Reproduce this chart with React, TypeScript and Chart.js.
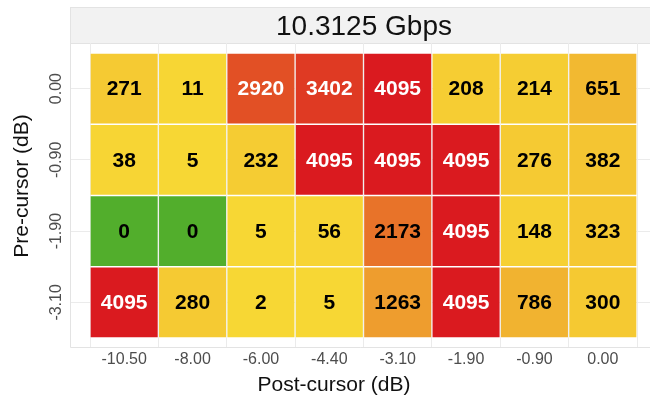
import React, { useEffect, useRef } from "react";
import { Chart, registerables } from "chart.js";

Chart.register(...registerables);

const chartTitle = "10.3125 Gbps";
const xAxisTitle = "Post-cursor (dB)";
const yAxisTitle = "Pre-cursor (dB)";

const postCursor = ["-10.50", "-8.00", "-6.00", "-4.40", "-3.10", "-1.90", "-0.90", "0.00"];
const preCursor = ["0.00", "-0.90", "-1.90", "-3.10"]; // top to bottom

const rowPre000 = [271, 11, 2920, 3402, 4095, 208, 214, 651];
const rowPre090 = [38, 5, 232, 4095, 4095, 4095, 276, 382];
const rowPre190 = [0, 0, 5, 56, 2173, 4095, 148, 323];
const rowPre310 = [4095, 280, 2, 5, 1263, 4095, 786, 300];

const rows = [rowPre000, rowPre090, rowPre190, rowPre310];

const FONT = "'Liberation Sans', Arial, sans-serif";

function cellColor(v: number): string {
  if (v === 0) return "rgb(82,174,44)";
  const t = Math.min(1, v / 4095);
  const lo = [247, 215, 52];
  const hi = [218, 26, 31];
  const c = lo.map((a, i) => Math.round(a + (hi[i] - a) * t));
  return `rgb(${c[0]},${c[1]},${c[2]})`;
}

export default function App() {
  const ref = useRef<HTMLCanvasElement | null>(null);

  useEffect(() => {
    if (!ref.current) return;
    const nRows = preCursor.length;
    const rowPos = (r: number) => nRows - 1 - r;

    const datasets = rows.map((vals, r) => ({
      label: preCursor[r],
      data: vals.map((v, c) => ({ x: c, y: [rowPos(r) - 0.5, rowPos(r) + 0.5] })),
      backgroundColor: vals.map(cellColor),
      borderColor: "rgba(255,255,255,0.22)",
      borderWidth: 1,
      borderSkipped: false,
      grouped: false,
      barPercentage: 1,
      categoryPercentage: 1,
    }));

    const decor = {
      id: "decor",
      beforeDraw(chart: any) {
        const { ctx, chartArea } = chart;
        ctx.save();
        ctx.fillStyle = "#ffffff";
        ctx.fillRect(0, 0, chart.width, chart.height);
        // strip
        ctx.fillStyle = "#f2f2f2";
        ctx.fillRect(chartArea.left, 7, chart.width - chartArea.left + 2, chartArea.top - 7);
        ctx.strokeStyle = "#e3e3e3";
        ctx.lineWidth = 1;
        ctx.strokeRect(chartArea.left + 0.5, 7.5, chart.width, chartArea.top - 7);
        ctx.fillStyle = "#111111";
        ctx.font = `28px ${FONT}`;
        ctx.textAlign = "center";
        ctx.textBaseline = "middle";
        ctx.fillText(chartTitle, 364, 27);
        ctx.restore();
      },
      afterDatasetsDraw(chart: any) {
        const { ctx, chartArea } = chart;
        const xs = chart.scales.x;
        const ys = chart.scales.y;
        ctx.save();
        // panel border
        ctx.strokeStyle = "#e3e3e3";
        ctx.lineWidth = 1;
        ctx.beginPath();
        ctx.moveTo(chartArea.left + 0.5, chartArea.top);
        ctx.lineTo(chartArea.left + 0.5, chartArea.bottom + 0.5);
        ctx.lineTo(chart.width + 2, chartArea.bottom + 0.5);
        ctx.stroke();
        // cell labels
        ctx.font = `bold 21px ${FONT}`;
        ctx.textAlign = "center";
        ctx.textBaseline = "middle";
        rows.forEach((vals, r) => {
          vals.forEach((v, c) => {
            const x = xs.getPixelForValue(c);
            const y = ys.getPixelForValue(rowPos(r));
            ctx.fillStyle = v >= 2500 ? "#ffffff" : "#000000";
            ctx.fillText(String(v), x, y + 1);
          });
        });
        // y tick labels (rotated)
        ctx.font = `16px ${FONT}`;
        ctx.fillStyle = "#4d4d4d";
        preCursor.forEach((lab, r) => {
          const y = ys.getPixelForValue(rowPos(r));
          ctx.save();
          ctx.translate(57, y);
          ctx.rotate(-Math.PI / 2);
          ctx.fillText(lab, 0, 0);
          ctx.restore();
        });
        // axis titles
        ctx.font = `21px ${FONT}`;
        ctx.fillStyle = "#111111";
        ctx.fillText(xAxisTitle, 334, 385);
        ctx.save();
        ctx.translate(22, 186);
        ctx.rotate(-Math.PI / 2);
        ctx.fillText(yAxisTitle, 0, 0);
        ctx.restore();
        ctx.restore();
      },
    };

    const chart = new Chart(ref.current, {
      type: "bar",
      data: { datasets: datasets as any },
      options: {
        animation: false,
        responsive: false,
        maintainAspectRatio: false,
        layout: { padding: { top: 43, right: 0, left: 0, bottom: 0 } },
        plugins: { legend: { display: false }, tooltip: { enabled: false }, title: { display: false } },
        scales: {
          x: {
            type: "linear",
            min: -0.7925,
            max: 7.69,
            offset: false,
            afterBuildTicks: (s: any) => {
              s.ticks = postCursor.map((_, i) => ({ value: i }));
            },
            afterFit: (s: any) => {
              s.height = 53;
            },
            ticks: {
              callback: (v: any) => postCursor[Math.round(Number(v))] ?? "",
              font: { family: FONT, size: 16 },
              color: "#4d4d4d",
              padding: 3,
              maxRotation: 0,
              minRotation: 0,
              autoSkip: false,
            },
            grid: { color: "#ebebeb", lineWidth: 1, drawTicks: false, tickLength: 0 },
            border: { display: false },
          },
          y: {
            type: "linear",
            min: -0.626,
            max: 3.64,
            afterBuildTicks: (s: any) => {
              s.ticks = preCursor.map((_, i) => ({ value: i }));
            },
            afterFit: (s: any) => {
              s.width = 70;
            },
            ticks: { display: false },
            grid: { color: "#ebebeb", lineWidth: 1, drawTicks: false, tickLength: 0 },
            border: { display: false },
          },
        },
      } as any,
      plugins: [decor],
    });
    return () => chart.destroy();
  }, []);

  return (
    <div style={{ position: "fixed", left: 0, top: 0, width: 650, height: 400 }}>
      <canvas ref={ref} width={650} height={400} style={{ width: 650, height: 400, display: "block" }} />
    </div>
  );
}
